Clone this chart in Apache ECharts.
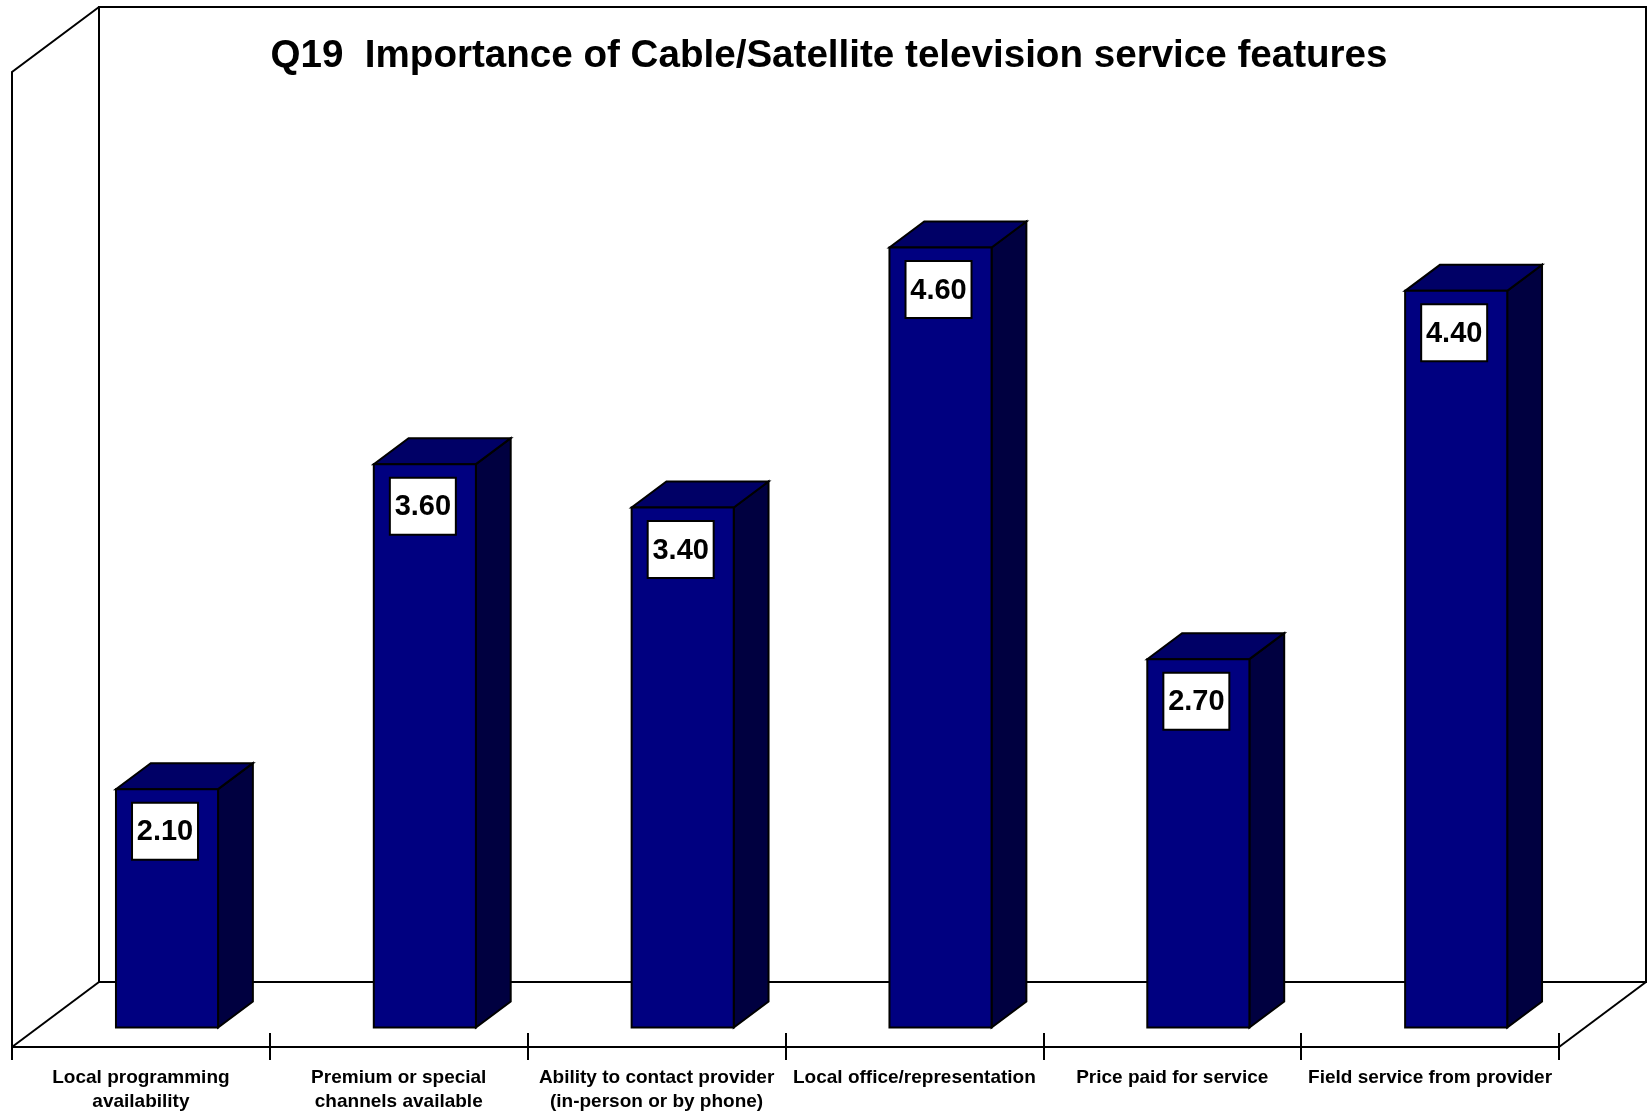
<!DOCTYPE html>
<html>
<head>
<meta charset="utf-8">
<script src="https://cdn.jsdelivr.net/npm/echarts/dist/echarts.min.js"></script>
<style>
  html, body { margin: 0; padding: 0; background: #ffffff; }
  #chart { width: 1648px; height: 1114px; }
</style>
</head>
<body>
<div id="chart"></div>
<script>
// Survey question Q19: mean importance score per service feature
const categories = [
  'Local programming\navailability',
  'Premium or special\nchannels available',
  'Ability to contact provider\n(in-person or by phone)',
  'Local office/representation',
  'Price paid for service',
  'Field service from provider'
];
const scores = [2.10, 3.60, 3.40, 4.60, 2.70, 4.40];
const valueMin = 1;
const valueMax = 5.5;
const titleText = 'Q19  Importance of Cable/Satellite television service features';

// Pseudo-3D box geometry (pixel offset of the back plane from the front plane)
const DEPTH_X = 87;
const DEPTH_Y = -65;
const BAR_FRONT = 0.3;      // bar front face, as a fraction of box depth
const BAR_BACK = 0.7;       // bar back face
const BAR_WIDTH_RATIO = 0.396;

const FONT = '"Liberation Sans", Arial, Helvetica, sans-serif';
const FRONT_COLOR = '#000080';
const TOP_COLOR = '#000066';
const SIDE_COLOR = '#000040';

// Walls and floor of the chart box
function renderFrame(params, api) {
  const band = api.size([1, 0])[0];
  const first = api.coord([0, valueMin]);
  const last = api.coord([categories.length - 1, valueMin]);
  const x0 = first[0] - band / 2;
  const x1 = last[0] + band / 2;
  const yBase = first[1];
  const yTop = api.coord([0, valueMax])[1];
  const stroke = { stroke: '#000', lineWidth: 2, fill: null };
  return {
    type: 'group',
    children: [
      {
        type: 'polygon',
        shape: { points: [
          [x0 + DEPTH_X, yTop + DEPTH_Y], [x1 + DEPTH_X, yTop + DEPTH_Y],
          [x1 + DEPTH_X, yBase + DEPTH_Y], [x0 + DEPTH_X, yBase + DEPTH_Y]
        ] },
        style: { fill: '#ffffff', stroke: '#000', lineWidth: 2 }
      },
      {
        type: 'polyline',
        shape: { points: [[x0, yBase], [x0, yTop], [x0 + DEPTH_X, yTop + DEPTH_Y]] },
        style: stroke
      },
      {
        type: 'line',
        shape: { x1: x0, y1: yBase, x2: x0 + DEPTH_X, y2: yBase + DEPTH_Y },
        style: stroke
      },
      {
        type: 'line',
        shape: { x1: x1, y1: yBase, x2: x1 + DEPTH_X, y2: yBase + DEPTH_Y },
        style: stroke
      }
    ]
  };
}

// One extruded bar with its value box
function renderBar(params, api) {
  const idx = api.value(0);
  const val = api.value(1);
  const band = api.size([1, 0])[0];
  const w = band * BAR_WIDTH_RATIO;
  const base = api.coord([idx, valueMin]);
  const top = api.coord([idx, val]);
  const fx = BAR_FRONT * DEPTH_X, fy = BAR_FRONT * DEPTH_Y;
  const bx = (BAR_BACK - BAR_FRONT) * DEPTH_X, by = (BAR_BACK - BAR_FRONT) * DEPTH_Y;
  const L = base[0] - w / 2 + fx;
  const R = base[0] + w / 2 + fx;
  const B = base[1] + fy;
  const T = top[1] + fy;
  const edge = { stroke: '#000', lineWidth: 2, lineJoin: 'miter' };
  const cx = (L + R) / 2 - 2;
  const cy = T + 42;
  const boxW = 66, boxH = 57;
  return {
    type: 'group',
    children: [
      {
        type: 'polygon',
        shape: { points: [[R, T], [R + bx, T + by], [R + bx, B + by], [R, B]] },
        style: Object.assign({ fill: SIDE_COLOR }, edge)
      },
      {
        type: 'polygon',
        shape: { points: [[L, T], [R, T], [R + bx, T + by], [L + bx, T + by]] },
        style: Object.assign({ fill: TOP_COLOR }, edge)
      },
      {
        type: 'rect',
        shape: { x: L, y: T, width: R - L, height: B - T },
        style: Object.assign({ fill: FRONT_COLOR }, edge)
      },
      {
        type: 'rect',
        shape: { x: cx - boxW / 2, y: cy - boxH / 2, width: boxW, height: boxH },
        style: { fill: '#ffffff', stroke: '#000', lineWidth: 2 }
      },
      {
        type: 'text',
        style: {
          text: val.toFixed(2),
          x: cx, y: cy + 1,
          align: 'center', verticalAlign: 'middle',
          fontFamily: FONT, fontWeight: 'bold', fontSize: 29, fill: '#000'
        }
      }
    ]
  };
}

const chart = echarts.init(document.getElementById('chart'), null, { renderer: 'canvas' });

chart.setOption({
  animation: false,
  backgroundColor: '#ffffff',
  title: {
    text: titleText,
    left: 824,
    top: 32,
    textAlign: 'center',
    textStyle: { fontFamily: FONT, fontWeight: 'bold', fontSize: 38.6, color: '#000' }
  },
  grid: { left: 12, right: 89, top: 72, bottom: 67, containLabel: false },
  xAxis: [
    {
      type: 'category',
      data: categories,
      position: 'bottom',
      boundaryGap: true,
      axisLine: { show: true, lineStyle: { color: '#000', width: 2 } },
      axisTick: { show: true, interval: 0, length: 13, lineStyle: { color: '#000', width: 2 } },
      axisLabel: {
        interval: 0, margin: 19, color: '#000',
        fontFamily: FONT, fontWeight: 'bold', fontSize: 19, lineHeight: 24
      },
      splitLine: { show: false }
    },
    {
      type: 'category',
      data: categories,
      position: 'bottom',
      boundaryGap: true,
      axisLine: { show: false },
      axisTick: { show: true, inside: true, interval: 0, length: 14, lineStyle: { color: '#000', width: 2 } },
      axisLabel: { show: false },
      splitLine: { show: false }
    }
  ],
  yAxis: {
    type: 'value', min: valueMin, max: valueMax, show: false,
    splitLine: { show: false }
  },
  series: [
    {
      type: 'custom',
      name: 'frame',
      coordinateSystem: 'cartesian2d',
      xAxisIndex: 0,
      renderItem: renderFrame,
      data: [[0, valueMin]],
      z: 1,
      silent: true
    },
    {
      type: 'custom',
      name: 'Importance',
      coordinateSystem: 'cartesian2d',
      xAxisIndex: 0,
      renderItem: renderBar,
      encode: { x: 0, y: 1 },
      data: scores.map((v, i) => [i, v]),
      z: 2
    }
  ]
});
</script>
</body>
</html>
